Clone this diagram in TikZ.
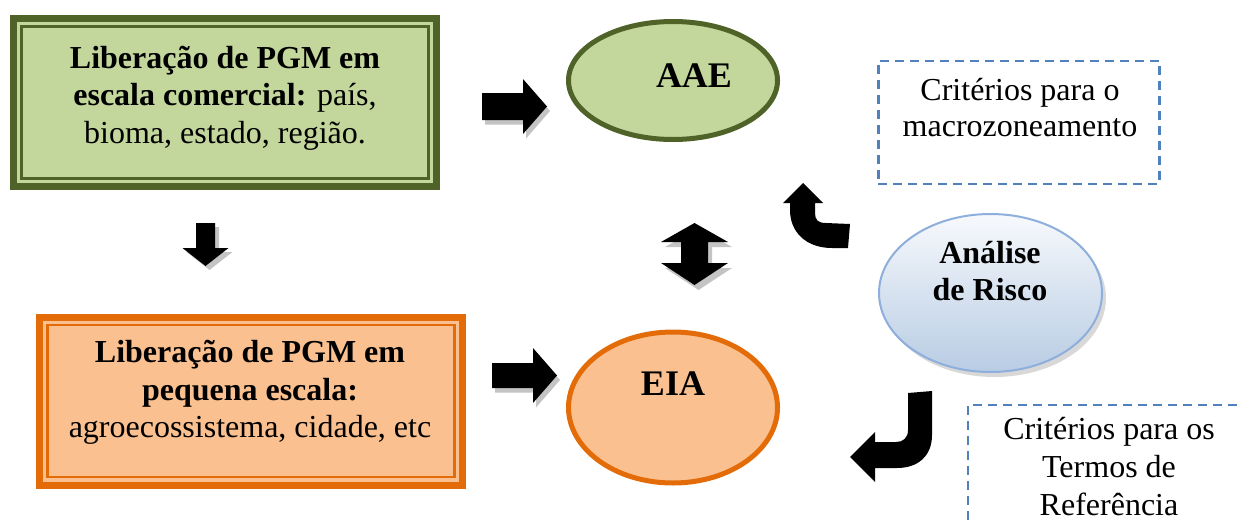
\documentclass[tikz,border=0pt]{standalone}
\usepackage{fontspec}
\setmainfont{Liberation Serif}
\usetikzlibrary{shapes.geometric,shadows,calc}

\definecolor{olivedark}{HTML}{4F6228}
\definecolor{olivefill}{HTML}{C3D69B}
\definecolor{orangedark}{HTML}{E36C09}
\definecolor{orangefill}{HTML}{FAC090}
\definecolor{dashblue}{HTML}{4F81BD}
\definecolor{riskedge}{HTML}{8EAEDB}
\definecolor{risktop}{HTML}{F7F9FC}
\definecolor{riskbottom}{HTML}{B8CCE4}
\definecolor{shadowgray}{HTML}{C4C4C4}

\begin{document}
\begin{tikzpicture}[x=0.5pt,y=-0.5pt,
  txt/.style={inner sep=0pt, align=center, font=\fontsize{16}{18.75}\selectfont},
  framebox/.style={rectangle, line width=3.5pt, inner sep=0pt, outer sep=0pt,
                   minimum width=211.5pt, minimum height=84pt},
  innerframe/.style={line width=1.25pt},
  oval/.style={ellipse, line width=2.5pt, inner sep=0pt, outer sep=0pt, minimum width=104.5pt},
  critbox/.style={rectangle, draw=dashblue, line width=1.2pt, dash pattern=on 4.5pt off 3pt,
                  inner sep=0pt},
  pics/blockarrow/.style n args={5}{code={
     \fill[#1] (0,-#4) -- ({#2-#3},-#4) -- ({#2-#3},-#5) -- (#2,0)
               -- ({#2-#3},#5) -- ({#2-#3},#4) -- (0,#4) -- cycle;}}
]
\clip (0,0) rectangle (1242,525);
\fill[white] (0,0) rectangle (1242,525);

% framed boxes on the left
\node[framebox, draw=olivedark, fill=olivefill] (comercial) at (225,102.5) {};
\draw[innerframe, olivedark] ([xshift=4pt,yshift=-4pt]comercial.north west)
     rectangle ([xshift=-4pt,yshift=4pt]comercial.south east);
\node[framebox, draw=orangedark, fill=orangefill] (pequena) at (251,401.2) {};
\draw[innerframe, orangedark] ([xshift=4pt,yshift=-4pt]pequena.north west)
     rectangle ([xshift=-4pt,yshift=4pt]pequena.south east);

\node[txt] (comercialtxt) at (225,98)
  {\textbf{Liberação de PGM em}\\\textbf{escala comercial:} país,\\bioma, estado, região.};
\node[txt] (pequenatxt) at (250,392.5)
  {\textbf{Liberação de PGM em}\\\textbf{pequena escala:}\\agroecossistema, cidade, etc};

% assessment ellipses
\node[oval, draw=olivedark, fill=olivefill, minimum height=59pt] (aae) at (673,80.5) {};
\node[oval, draw=orangedark, fill=orangefill, minimum height=75.5pt] (eia) at (673,407.5) {};
\node[txt, font=\fontsize{18}{21}\selectfont\bfseries] (aaetxt) at (694,76) {AAE};
\node[txt, font=\fontsize{18}{21}\selectfont\bfseries] (eiatxt) at (673,384) {EIA};

% risk analysis
\node[ellipse, draw=riskedge, line width=1pt, top color=risktop, bottom color=riskbottom,
      minimum width=111.5pt, minimum height=79pt, inner sep=0pt,
      drop shadow={shadow xshift=2pt, shadow yshift=-2.5pt, fill=black!30}] (risco) at (990.5,293) {};
\node[txt, font=\fontsize{16}{18.75}\selectfont\bfseries] (riscotxt) at (990,271) {Análise\\de Risco};

% criteria boxes
\node[critbox, minimum width=140.5pt, minimum height=61.7pt] (macro) at (1018.8,122.4) {};
\node[txt, font=\fontsize{16}{18.35}\selectfont] (macrotxt) at (1020,107.5)
  {Critérios para o\\macrozoneamento};
\node[critbox, minimum width=141pt, minimum height=70pt] (termos) at (1109,475) {};
\node[txt, font=\fontsize{16}{19}\selectfont] (termostxt) at (1109,467)
  {Critérios para os\\Termos de\\Referência};

% straight block arrows with their shadows
\pic at (485,111) {blockarrow={shadowgray}{65}{24}{13.5}{27.5}};
\pic at (482,106.5) {blockarrow={black}{65}{24}{13.5}{27.5}};
\pic at (495,380) {blockarrow={shadowgray}{65}{24}{12.5}{27.5}};
\pic at (492,375.5) {blockarrow={black}{65}{24}{12.5}{27.5}};
\pic[rotate=-90] at (209.5,227) {blockarrow={shadowgray}{43}{18}{9.5}{23}};
\pic[rotate=-90] at (205.5,223) {blockarrow={black}{43}{18}{9.5}{23}};

% two-headed arrow between AAE and EIA
\fill[shadowgray] (698.5,228) -- (732,247) -- (712,247) -- (712,268) -- (732,268) -- (698.5,290)
   -- (665,268) -- (685,268) -- (685,247) -- (665,247) -- cycle;
\fill[black] (694.5,223) -- (728,242) -- (708,242) -- (708,263) -- (728,263) -- (694.5,285)
   -- (661,263) -- (681,263) -- (681,242) -- (661,242) -- cycle;

% bent arrows leaving the risk analysis
\fill[black] (783,203) -- (803,183) -- (823,203) -- (815,203) -- (815,213)
   .. controls (815,220) and (818,223) .. (826,223) -- (850,224) -- (848,248) -- (832,248)
   .. controls (806,248) and (790,232) .. (790,210) -- (790,203) -- cycle;
\fill[black] (908,393) -- (932,391) -- (932,435)
   .. controls (932,456) and (918,468) .. (897,468) -- (875,468) -- (875,482) -- (850,457)
   -- (875,432) -- (875,442) -- (896,442)
   .. controls (903,442) and (908,438) .. (908,430) -- cycle;
\end{tikzpicture}
\end{document}
